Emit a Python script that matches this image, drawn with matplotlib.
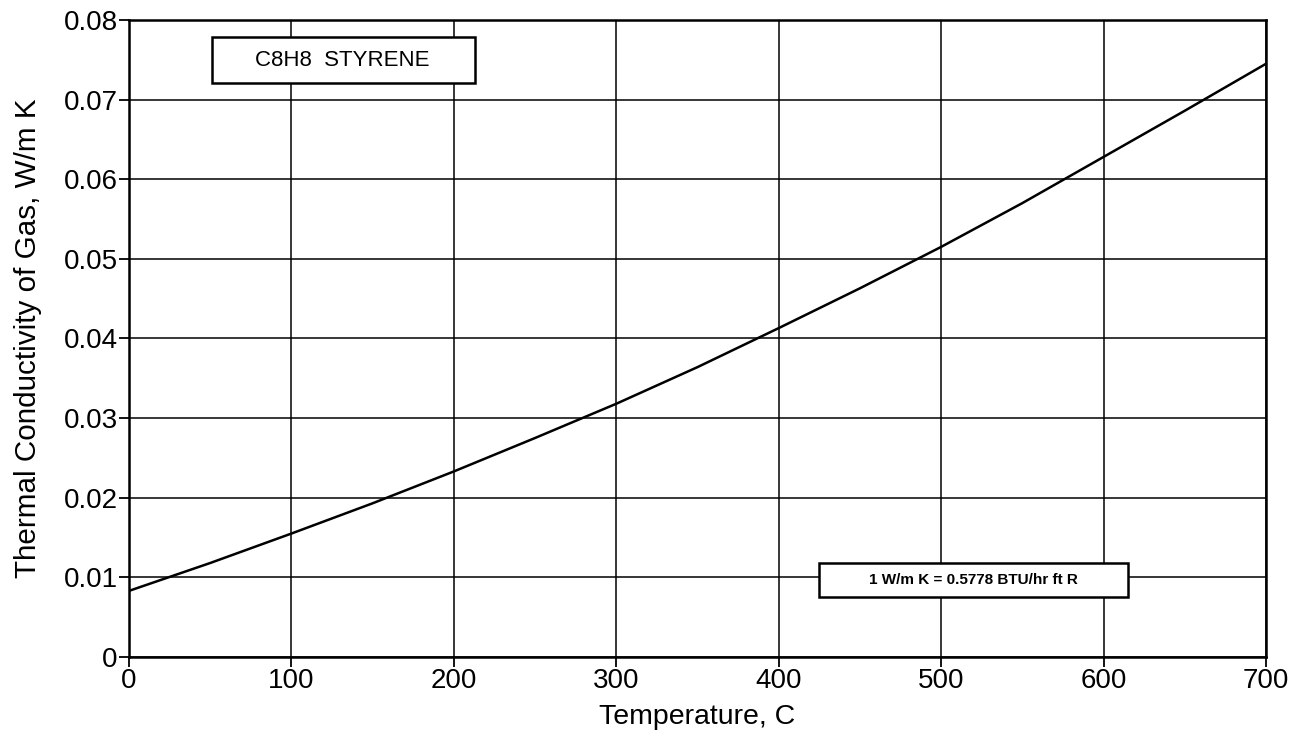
import matplotlib.pyplot as plt
from matplotlib.patches import Rectangle

# thermal conductivity of styrene gas
temp_c = [0, 50, 100, 150, 200, 250, 300, 350, 400, 450, 500, 550, 600, 650, 700]
k_gas = [0.0083, 0.0118, 0.0155, 0.0193, 0.0233, 0.0275, 0.0318, 0.0364,
         0.0413, 0.0463, 0.0515, 0.0570, 0.0628, 0.0686, 0.0745]
x_ticks = [0, 100, 200, 300, 400, 500, 600, 700]
y_ticks = [0, 0.01, 0.02, 0.03, 0.04, 0.05, 0.06, 0.07, 0.08]
y_labels = ["0", "0.01", "0.02", "0.03", "0.04", "0.05", "0.06", "0.07", "0.08"]

plt.rcParams['font.family'] = ['Liberation Sans', 'DejaVu Sans']

fig = plt.figure(figsize=(13.08, 7.39), dpi=100)
ax = fig.add_axes([0.0986, 0.111, 0.8693, 0.862])

ax.plot(temp_c, k_gas, color='black', lw=1.8, zorder=3)
ax.set_xlim(0, 700)
ax.set_ylim(0, 0.08)
ax.set_xticks(x_ticks)
ax.set_yticks(y_ticks)
ax.set_yticklabels(y_labels)
ax.grid(True, color='black', lw=1.1)
for s in ax.spines.values():
    s.set_linewidth(1.8)
ax.tick_params(labelsize=20, length=7, width=1.3, direction='out', pad=1)
ax.set_xlabel("Temperature, C", fontsize=20.5, labelpad=7)
ax.set_ylabel("Thermal Conductivity of Gas, W/m K", fontsize=21.3, labelpad=16)

# label boxes (fixed size, like the original)
ax.add_patch(Rectangle((0.073, 0.901), 0.2313, 0.0722, transform=ax.transAxes,
                       fc='white', ec='black', lw=1.8, zorder=4))
ax.text(0.1875, 0.937, "C8H8  STYRENE", transform=ax.transAxes, fontsize=16,
        ha='center', va='center', zorder=5)
ax.add_patch(Rectangle((0.6069, 0.0942), 0.2717, 0.0534, transform=ax.transAxes,
                       fc='white', ec='black', lw=1.8, zorder=4))
ax.text(0.7425, 0.121, "1 W/m K = 0.5778 BTU/hr ft R", transform=ax.transAxes,
        fontsize=11, fontweight='bold', ha='center', va='center', zorder=5)

fig.savefig("out.png", dpi=100)
